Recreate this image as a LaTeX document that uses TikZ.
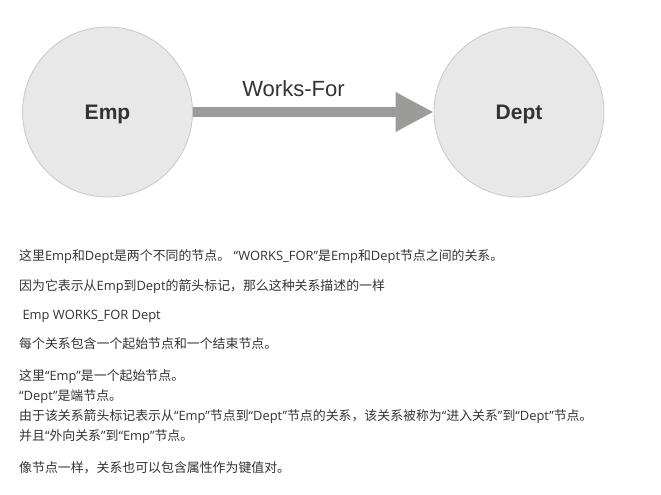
\documentclass[tikz,border=0pt]{standalone}
\usepackage{fontspec}
\setmainfont{Open Sans}
\newfontfamily\cjk{Noto Sans CJK SC}
\newfontfamily\arial{Liberation Sans}
\usetikzlibrary{shapes.geometric,arrows.meta}
\definecolor{circfill}{HTML}{E8E8E8}
\definecolor{circline}{HTML}{C8C8C8}
\definecolor{arrowgray}{HTML}{9A9C9A}
\definecolor{txt}{HTML}{333333}
\newcommand\zh[1]{{\cjk #1}}
\begin{document}
\begin{tikzpicture}[x=1pt,y=-1pt,
  entity/.style={circle,draw=circline,fill=circfill,line width=0.8pt,minimum size=170pt,inner sep=0pt,
    text depth=0pt,font=\arial\bfseries\fontsize{21}{24}\selectfont,text=txt},
  rel/.style={draw=arrowgray,line width=10pt,-{Triangle[length=38pt,width=37pt]}},
  rellabel/.style={font=\arial\fontsize{22}{26}\selectfont,text=txt,inner sep=0pt},
  para/.style={anchor=base west,inner sep=0pt,font=\fontsize{12.9}{15}\selectfont,text=txt}]
\useasboundingbox (0,0) rectangle (661,495);
\node[entity] (emp) at (107.5,112) {Emp};
\node[entity] (dept) at (519,112) {Dept};
\draw[rel] (emp) -- (dept);
\node[rellabel,anchor=base] (wf) at (293.5,96.7) {Works-For};
\node[para] (p1) at (19,260) {\zh{这里}Emp\zh{和}Dept\zh{是两个不同的节点。} “WORKS\_FOR”\zh{是}Emp\zh{和}Dept\zh{节点之间的关系。}};
\node[para] (p2) at (19,290) {\zh{因为它表示从}Emp\zh{到}Dept\zh{的箭头标记，那么这种关系描述的一样}};
\node[para] (p3) at (19,319) {\ Emp WORKS\_FOR Dept};
\node[para] (p4) at (19,348) {\zh{每个关系包含一个起始节点和一个结束节点。}};
\node[para] (p5) at (19,380) {\zh{这里}“Emp”\zh{是一个起始节点。}};
\node[para] (p6) at (19,400) {“Dept”\zh{是端节点。}};
\node[para] (p7) at (19,420) {\zh{由于该关系箭头标记表示从}“Emp”\zh{节点到}“Dept”\zh{节点的关系，该关系被称为}“\zh{进入关系}”\zh{到}“Dept”\zh{节点。}};
\node[para] (p8) at (19,440) {\zh{并且}“\zh{外向关系}”\zh{到}“Emp”\zh{节点。}};
\node[para] (p9) at (19,472) {\zh{像节点一样，关系也可以包含属性作为键值对。}};
\end{tikzpicture}
\end{document}
